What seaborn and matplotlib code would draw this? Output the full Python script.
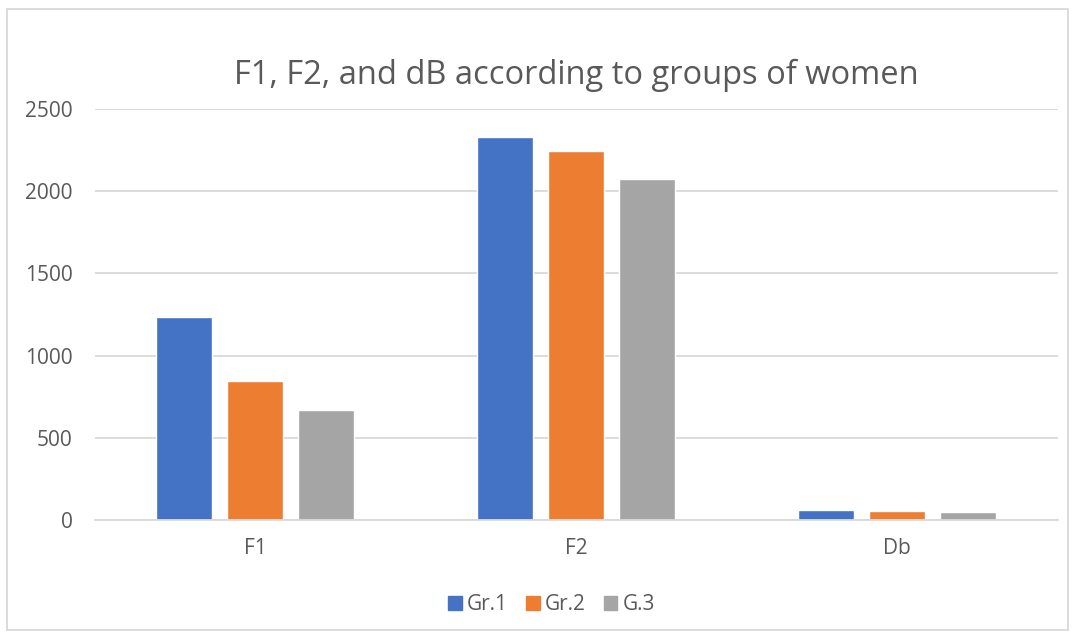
import pandas as pd
import numpy as np
import matplotlib
matplotlib.use("Agg")
import matplotlib.pyplot as plt
import seaborn as sns
from matplotlib.patches import Rectangle

# values
categories = ["F1", "F2", "Db"]
groups = ["Gr.1", "Gr.2", "G.3"]
gr1 = [1232, 2332, 58]
gr2 = [846, 2243, 54]
g3 = [672, 2075, 49]
yticks = [0, 500, 1000, 1500, 2000, 2500]

colors = ["#4472C4", "#ED7D31", "#A5A5A5"]
text_col = "#595959"
grid_col = "#D9D9D9"

df = pd.DataFrame({
    "category": categories * 3,
    "group": [groups[0]] * 3 + [groups[1]] * 3 + [groups[2]] * 3,
    "value": gr1 + gr2 + g3,
})

sns.set_theme(style="white")
plt.rcParams["font.family"] = ["Open Sans", "DejaVu Sans"]

fig = plt.figure(figsize=(10.75, 6.38), dpi=100)
ax = fig.add_axes([0.088, 0.185, 0.896, 0.644])

sns.barplot(data=df, x="category", y="value", hue="group", palette=colors,
            saturation=1, width=0.664, gap=0.21, errorbar=None, ax=ax)

ax.set_ylim(0, 2500)
ax.set_yticks(yticks)
ax.set_xlim(-0.5, 2.5)
ax.yaxis.grid(True, color=grid_col, linewidth=1.3)
ax.set_axisbelow(True)
for s in ["top", "right", "left"]:
    ax.spines[s].set_visible(False)
ax.spines["bottom"].set_color(grid_col)
ax.spines["bottom"].set_linewidth(1.3)
ax.tick_params(axis="y", length=0, pad=16, labelsize=15, labelcolor=text_col)
ax.tick_params(axis="x", length=0, pad=13, labelsize=15, labelcolor=text_col)
ax.set_xlabel("")
ax.set_ylabel("")

ax.set_title("F1, F2, and dB according to groups of women", fontsize=23.5,
             color=text_col, pad=18)

ax.get_legend().remove()
handles = [Rectangle((0, 0), 1, 1, color=c) for c in colors]
fig.legend(handles, groups, loc="center", bbox_to_anchor=(0.513, 0.052),
           ncol=3, frameon=False, fontsize=15, labelcolor=text_col,
           handlelength=0.67, handleheight=0.67, handletextpad=0.25,
           columnspacing=0.85)

# chart border
fig.patches.append(Rectangle((7 / 1075, 8 / 638), 1061 / 1075, 621 / 638,
                             transform=fig.transFigure, fill=False,
                             edgecolor="#D9D9D9", linewidth=1.3))

fig.savefig("out.png", dpi=100)
